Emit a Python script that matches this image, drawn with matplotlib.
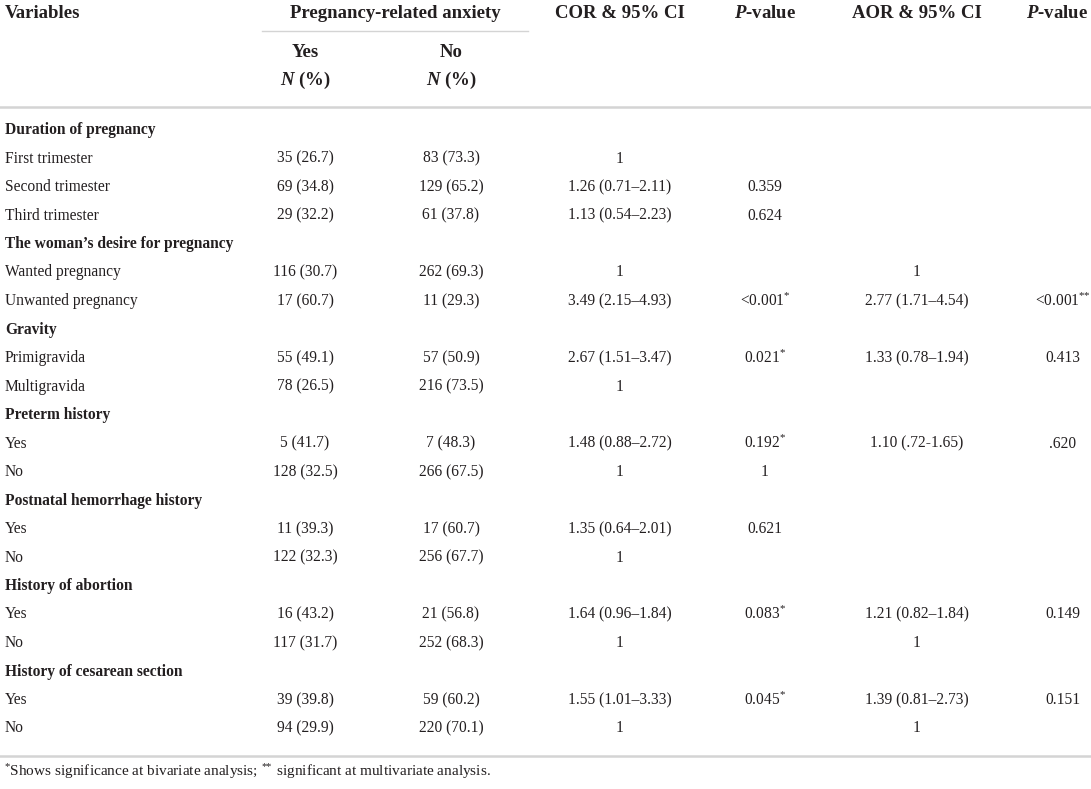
import matplotlib
matplotlib.use("Agg")
import matplotlib.pyplot as plt

plt.rcParams['font.family'] = ['Liberation Serif', 'DejaVu Serif']
plt.rcParams['mathtext.fontset'] = 'custom'
plt.rcParams['mathtext.rm'] = 'Liberation Serif'
plt.rcParams['mathtext.it'] = 'Liberation Serif:italic'
plt.rcParams['mathtext.bf'] = 'Liberation Serif:bold'
plt.rcParams['mathtext.bfit'] = 'Liberation Serif:italic:bold'

# table content
col_headers = ["COR & 95% CI", r"$\mathbfit{P}$-value", "AOR & 95% CI", r"$\mathbfit{P}$-value"]
group_names = ["Duration of pregnancy", "The woman\u2019s desire for pregnancy", "Gravity",
               "Preterm history", "Postnatal hemorrhage history", "History of abortion",
               "History of cesarean section"]
group_sizes = [3, 2, 2, 2, 2, 2, 2]
row_names = ["First trimester", "Second trimester", "Third trimester",
             "Wanted pregnancy", "Unwanted pregnancy",
             "Primigravida", "Multigravida",
             "Yes", "No", "Yes", "No", "Yes", "No", "Yes", "No"]
yes_col = ["35 (26.7)", "69 (34.8)", "29 (32.2)", "116 (30.7)", "17 (60.7)",
           "55 (49.1)", "78 (26.5)", "5 (41.7)", "128 (32.5)", "11 (39.3)",
           "122 (32.3)", "16 (43.2)", "117 (31.7)", "39 (39.8)", "94 (29.9)"]
no_col = ["83 (73.3)", "129 (65.2)", "61 (37.8)", "262 (69.3)", "11 (29.3)",
          "57 (50.9)", "216 (73.5)", "7 (48.3)", "266 (67.5)", "17 (60.7)",
          "256 (67.7)", "21 (56.8)", "252 (68.3)", "59 (60.2)", "220 (70.1)"]
cor_col = ["1", "1.26 (0.71\u20132.11)", "1.13 (0.54\u20132.23)", "1", "3.49 (2.15\u20134.93)",
           "2.67 (1.51\u20133.47)", "1", "1.48 (0.88\u20132.72)", "1", "1.35 (0.64\u20132.01)",
           "1", "1.64 (0.96\u20131.84)", "1", "1.55 (1.01\u20133.33)", "1"]
p_cor_col = ["", "0.359", "0.624", "", "<0.001$^{*}$", "0.021$^{*}$", "", "0.192$^{*}$",
             "1", "0.621", "", "0.083$^{*}$", "", "0.045$^{*}$", ""]
aor_col = ["", "", "", "1", "2.77 (1.71\u20134.54)", "1.33 (0.78\u20131.94)", "",
           "1.10 (.72-1.65)", "", "", "", "1.21 (0.82\u20131.84)", "1",
           "1.39 (0.81\u20132.73)", "1"]
p_aor_col = ["", "", "", "", r"<0.001$^{*\!\!*}$", "0.413", "", ".620", "", "", "",
             "0.149", "", "0.151", ""]
footnote = (r"$^{*}$Shows significance at bivariate analysis; $^{*\!\!*}$ significant at "
            "multivariate analysis.")

W, H = 1091, 789
fig = plt.figure(figsize=(W / 100, H / 100), dpi=100)
ax = fig.add_axes([0, 0, 1, 1])
ax.set_xlim(0, W)
ax.set_ylim(H, 0)
ax.axis('off')

txt = '#231f20'
rule = '#d4d4d4'
body = 11.2
head = 13.5

x_label = 5
x_cols = [305, 451, 620, 765, 917, 1063]

# header
ax.text(x_label, 13, "Variables", fontsize=head, fontweight='bold', color=txt, va='center')
ax.text(395, 13, "Pregnancy-related anxiety", fontsize=head,
        fontweight='bold', color=txt, va='center', ha='center')
ax.plot([262, 528], [31, 31], color=rule, lw=1.0)
for x, lab in zip(x_cols[:2], ["Yes", "No"]):
    ax.text(x, 52, lab, fontsize=head, fontweight='bold', color=txt, va='center', ha='center')
    ax.text(x, 80, r"$\mathbfit{N}$ (%)", fontsize=head, fontweight='bold', color=txt,
            va='center', ha='center')
for x, lab in zip(x_cols[2:5], col_headers[:3]):
    ax.text(x, 13, lab, fontsize=head, fontweight='bold', color=txt, va='center', ha='center')
ax.text(1088, 13, col_headers[3], fontsize=head, fontweight='bold', color=txt,
        va='center', ha='right')
ax.plot([0, W], [107, 107], color=rule, lw=1.8)

# body
y0, step = 130, 28.5
line = 0
r = 0
for g, n in zip(group_names, group_sizes):
    ax.text(x_label, y0 + line * step, g, fontsize=body, fontweight='bold', color=txt, va='center')
    line += 1
    for _ in range(n):
        y = y0 + line * step
        ax.text(x_label, y, row_names[r], fontsize=body, color=txt, va='center')
        vals = [yes_col[r], no_col[r], cor_col[r], p_cor_col[r], aor_col[r], p_aor_col[r]]
        for x, v in zip(x_cols, vals):
            if v:
                ax.text(x, y, v, fontsize=body, color=txt, va='center', ha='center')
        line += 1
        r += 1

ax.plot([0, W], [756, 756], color=rule, lw=1.8)
ax.text(x_label - 1, 772, footnote, fontsize=11.0, color=txt, va='center')

fig.savefig("out.png", dpi=100)
